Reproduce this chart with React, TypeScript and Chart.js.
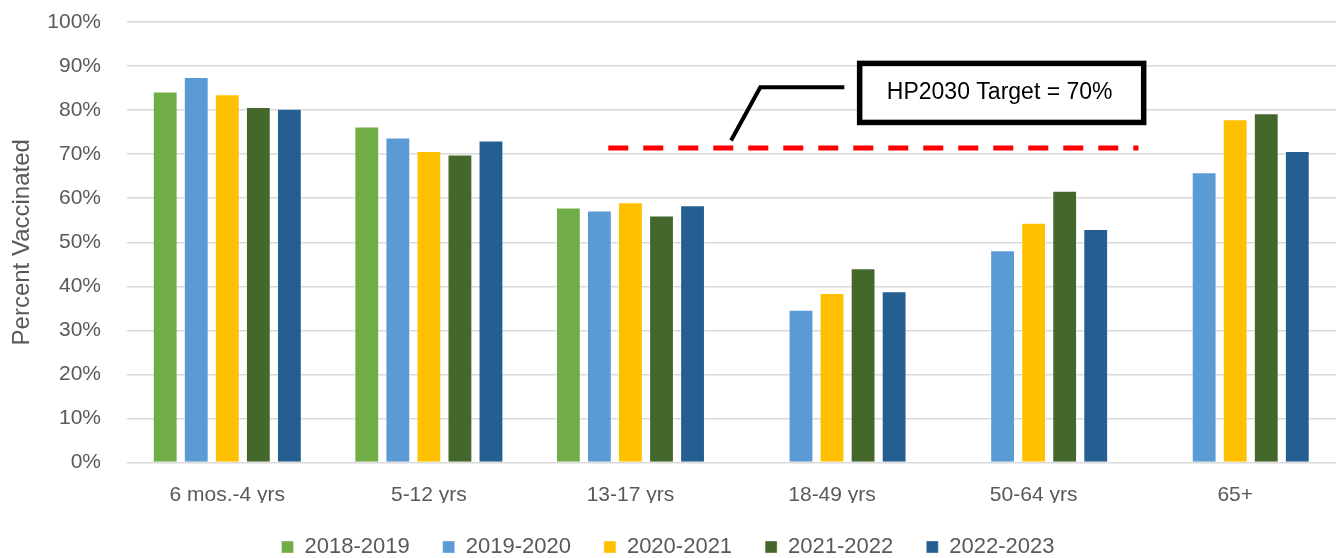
import React, { useEffect, useRef } from "react";
import { Chart, registerables } from "chart.js";

Chart.register(...registerables);

// ---- data ----
const categories = ["6 mos.-4 yrs", "5-12 yrs", "13-17 yrs", "18-49 yrs", "50-64 yrs", "65+"];
const seasons = ["2018-2019", "2019-2020", "2020-2021", "2021-2022", "2022-2023"];
const season2018 = [84.2, 76.3, 57.9, null, null, null];
const season2019 = [87.5, 73.8, 57.2, 34.7, 48.2, 65.9];
const season2020 = [83.6, 70.7, 59.1, 38.5, 54.4, 77.9];
const season2021 = [80.7, 69.9, 56.1, 44.1, 61.7, 79.3];
const season2022 = [80.3, 73.1, 58.4, 38.9, 53.0, 70.7];
const seasonColors = ["#70AD47", "#5B9BD5", "#FFC000", "#44682C", "#255E91"];
const yTickValues = [0, 10, 20, 30, 40, 50, 60, 70, 80, 90, 100];
const yAxisTitle = "Percent Vaccinated";
const targetLabel = "HP2030 Target = 70%";
const targetLineValue = 71.4;

const FONT = "'Liberation Sans', Arial, sans-serif";
const TEXT = "#595959";

const targetPlugin = {
  id: "targetAnnotation",
  afterDatasetsDraw(chart: any) {
    const { ctx } = chart;
    const x = chart.scales.x;
    const y = chart.scales.y;
    const px = (v: number) => x.getPixelForValue(v);
    const py = (v: number) => y.getPixelForValue(v);
    ctx.save();
    // dashed target line
    ctx.strokeStyle = "#FF0000";
    ctx.lineWidth = 5;
    ctx.setLineDash([20, 15]);
    ctx.beginPath();
    ctx.moveTo(px(1.89), py(targetLineValue));
    ctx.lineTo(px(4.52), py(targetLineValue));
    ctx.stroke();
    ctx.setLineDash([]);
    // leader line
    ctx.strokeStyle = "#000000";
    ctx.lineWidth = 4;
    ctx.beginPath();
    ctx.moveTo(px(2.499), py(73.1));
    ctx.lineTo(px(2.644), py(85.2));
    ctx.lineTo(px(3.061), py(85.2));
    ctx.stroke();
    // callout box
    const bx1 = px(3.137), bx2 = px(4.546);
    const by1 = py(90.6), by2 = py(77.2);
    ctx.fillStyle = "#FFFFFF";
    ctx.fillRect(bx1, by1, bx2 - bx1, by2 - by1);
    ctx.lineWidth = 5.5;
    ctx.strokeRect(bx1, by1, bx2 - bx1, by2 - by1);
    ctx.fillStyle = "#000000";
    ctx.font = `23px ${FONT}`;
    ctx.textAlign = "center";
    ctx.textBaseline = "middle";
    ctx.fillText(targetLabel, (bx1 + bx2) / 2 - 2, (by1 + by2) / 2);
    ctx.restore();
  },
};

export default function App() {
  const ref = useRef<HTMLCanvasElement | null>(null);

  useEffect(() => {
    if (!ref.current) return;
    const series = [season2018, season2019, season2020, season2021, season2022];
    const chart = new Chart(ref.current, {
      type: "bar",
      data: {
        labels: categories,
        datasets: seasons.map((s, i) => ({
          label: s,
          data: series[i],
          backgroundColor: seasonColors[i],
          borderColor: "rgba(255,255,255,0.35)",
          borderWidth: 1,
          categoryPercentage: 0.77,
          barPercentage: 0.8,
        })),
      },
      options: {
        responsive: false,
        animation: false,
        layout: { padding: { top: 22, right: 6, left: 0, bottom: -10 } },
        plugins: {
          tooltip: { enabled: false },
          legend: {
            position: "bottom",
            labels: {
              boxWidth: 12,
              boxHeight: 12,
              padding: 33,
              color: TEXT,
              font: { family: FONT, size: 22 },
            },
          },
        },
        scales: {
          x: {
            grid: { display: false, drawTicks: false },
            border: { display: false },
            ticks: { color: TEXT, font: { family: FONT, size: 21 }, padding: 20, maxRotation: 0, autoSkip: false },
            afterFit: (s: any) => { s.height = 40.5; },
          },
          y: {
            min: 0,
            max: 100,
            afterBuildTicks: (s: any) => { s.ticks = yTickValues.map((v) => ({ value: v })); },
            grid: { color: "#D9D9D9", lineWidth: 1.5, drawTicks: false },
            border: { display: false },
            ticks: {
              color: TEXT,
              font: { family: FONT, size: 21 },
              padding: 25.5,
              callback: (v: any) => `${v}%`,
            },
            title: {
              display: true,
              text: yAxisTitle,
              color: TEXT,
              font: { family: FONT, size: 24 },
              padding: { top: 8, bottom: 0 },
            },
            afterFit: (s: any) => {
              s.width = 126.5;
              s.paddingTop = 12;
              s.paddingBottom = 12;
            },
          },
        },
      },
      plugins: [targetPlugin],
    });
    return () => chart.destroy();
  }, []);

  return (
    <div style={{ position: "absolute", left: 0, top: 0, width: 1342, height: 558, background: "#fff" }}>
      <canvas ref={ref} width={1342} height={558} />
    </div>
  );
}
